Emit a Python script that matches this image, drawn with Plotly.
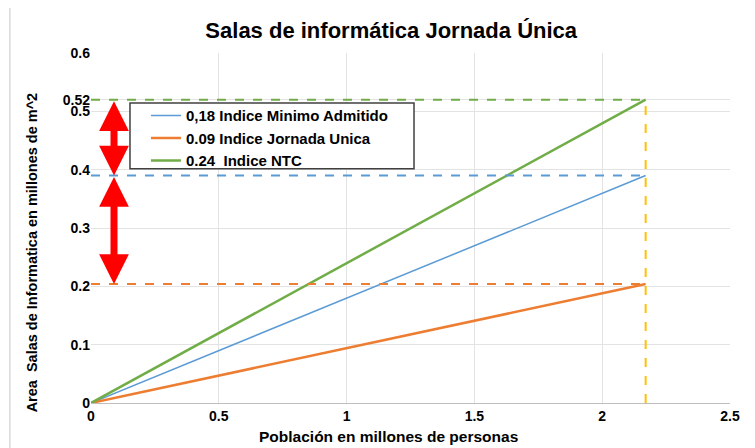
import plotly.graph_objects as go

poblacion = [0, 2.17]
indice_minimo = [0, 0.39]
indice_jornada = [0, 0.204]
indice_ntc = [0, 0.52]
nombres = ["0,18 Indice Minimo Admitido", "0.09 Indice Jornada Unica", "0.24  Indice NTC"]
colores = ["#5B9BD5", "#ED7D31", "#70AD47"]
anchos = [1.5, 2.5, 2.5]
x_ticks = [0, 0.5, 1, 1.5, 2, 2.5]
y_ticks = [0, 0.1, 0.2, 0.3, 0.4, 0.5, 0.52, 0.6]
flecha_x = 0.09

FONT = "Liberation Sans"
fig = go.Figure()
series = [indice_minimo, indice_jornada, indice_ntc]
for nombre, ys, c, w in zip(nombres, series, colores, anchos):
    fig.add_trace(go.Scatter(x=poblacion, y=ys, mode="lines", name=f"<b>{nombre}</b>",
                             line=dict(color=c, width=w)))

# legend box (drawn as shape so it can be sized like the original)
fig.add_shape(type="rect", xref="paper", yref="paper", x0=0.061, x1=0.5055, y0=0.669, y1=0.857,
              fillcolor="white", line=dict(color="#404040", width=1.5), layer="above")

xend = poblacion[-1]
for ys, c in zip(series, colores):
    fig.add_shape(type="line", x0=0, x1=xend, y0=ys[-1], y1=ys[-1], xref="x", yref="y",
                  line=dict(color=c, width=2, dash="dash"))
fig.add_shape(type="line", x0=xend, x1=xend, y0=0, y1=indice_ntc[-1], xref="x", yref="y",
              line=dict(color="#FFC000", width=2, dash="dash"))

# red double arrows
for top, bot in [(indice_ntc[-1], indice_minimo[-1]), (indice_minimo[-1], indice_jornada[-1])]:
    fig.add_annotation(x=flecha_x, y=bot, ax=flecha_x, ay=top, xref="x", yref="y",
                       axref="x", ayref="y", text="", showarrow=True,
                       arrowhead=2, arrowside="end+start", arrowsize=0.85,
                       arrowwidth=7, arrowcolor="#FF0000", standoff=0, startstandoff=0)

# axis titles
fig.add_annotation(text="<b>Población en millones de personas</b>", xref="paper", yref="paper",
                   x=0.465, y=-0.097, xanchor="center", yanchor="middle", showarrow=False,
                   font=dict(family=FONT, size=15.5, color="black"))
fig.add_annotation(text="<b>Area  Salas de Informatica en millones de m^2</b>", xref="paper",
                   yref="paper", x=-0.092, y=0.431, xanchor="center", yanchor="middle",
                   textangle=-90, showarrow=False,
                   font=dict(family=FONT, size=14.5, color="black"))

# outer chart border
fig.add_shape(type="rect", xref="paper", yref="paper", x0=-0.127, x1=1.033, y0=-0.3, y1=1.131,
              line=dict(color="#D9D9D9", width=1.5), layer="below")

fig.update_layout(
    width=747, height=440,
    margin=dict(l=83, r=25, t=45, b=45, autoexpand=False),
    paper_bgcolor="white", plot_bgcolor="white",
    font=dict(family=FONT, size=13, color="black"),
    title=dict(text="<b>Salas de informática Jornada Única</b>", x=0.513, xanchor="center",
               xref="container", yref="container",
               y=1 - 22 / 440, yanchor="middle", font=dict(family=FONT, size=22, color="black")),
    showlegend=True,
    legend=dict(x=0.086, y=0.868, xanchor="left", yanchor="top", bgcolor="rgba(0,0,0,0)",
                borderwidth=0, tracegroupgap=0, itemwidth=30,
                font=dict(family=FONT, size=15, color="black")),
    xaxis=dict(range=[0, 2.5], tickvals=x_ticks, ticktext=[f"<b>{v:g}</b>" for v in x_ticks],
               showgrid=True, gridcolor="#E3E3E3", gridwidth=1, zeroline=False, automargin=False,
               showline=True, linecolor="#BFBFBF", linewidth=1, ticks="",
               tickfont=dict(family=FONT, size=14)),
    yaxis=dict(range=[0, 0.6], tickvals=y_ticks, ticktext=[f"<b>{v:g}</b>" for v in y_ticks],
               showgrid=True, gridcolor="#E3E3E3", gridwidth=1, zeroline=False, automargin=False,
               showline=False, ticks="",
               tickfont=dict(family=FONT, size=14)),
)
fig.write_html("out.html")
